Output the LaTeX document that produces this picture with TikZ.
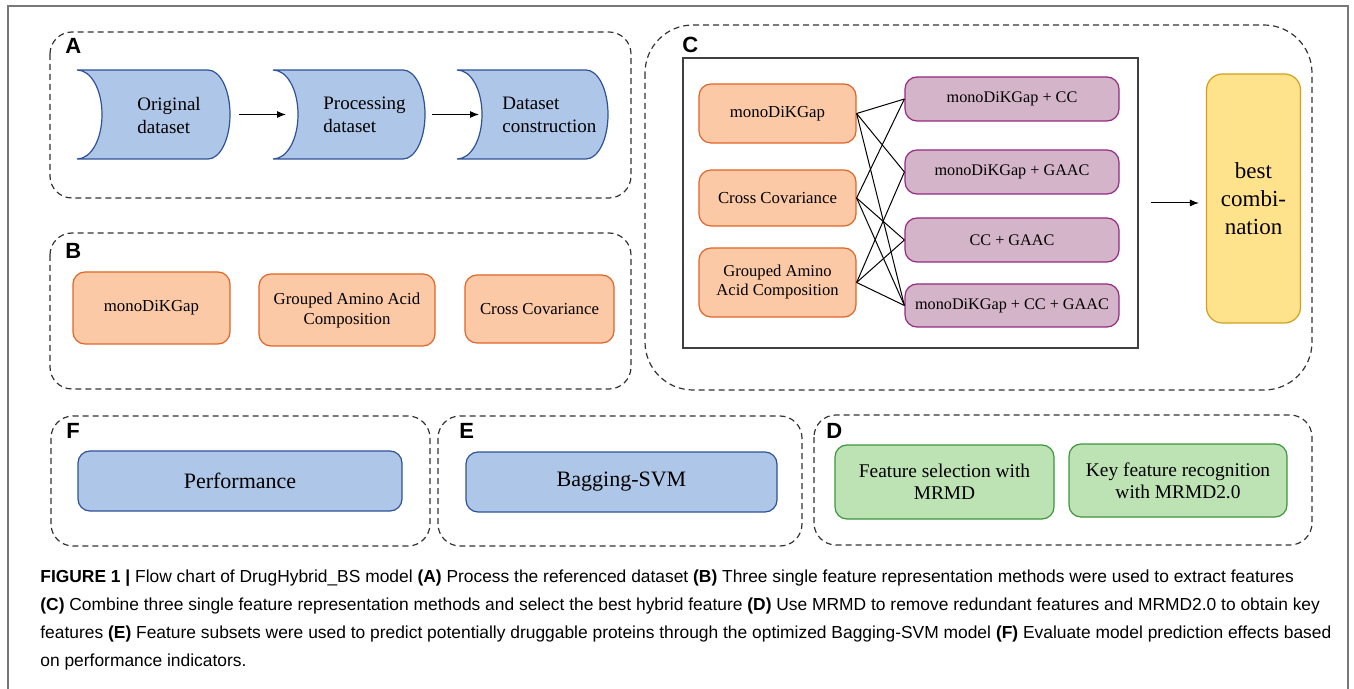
\documentclass[tikz,border=0pt]{standalone}
\usepackage{fontspec}
\setmainfont{Liberation Serif}
\newfontfamily\tagfont{Liberation Sans}
\usetikzlibrary{arrows.meta}
\definecolor{bluefill}{RGB}{174,198,232}
\definecolor{blueline}{RGB}{47,82,150}
\definecolor{orangefill}{RGB}{251,201,166}
\definecolor{orangeline}{RGB}{225,100,40}
\definecolor{purplefill}{RGB}{212,180,200}
\definecolor{purpleline}{RGB}{150,40,130}
\definecolor{yellowfill}{RGB}{255,227,140}
\definecolor{yellowline}{RGB}{210,160,30}
\definecolor{greenfill}{RGB}{189,227,180}
\definecolor{greenline}{RGB}{60,150,60}
\definecolor{framegray}{RGB}{120,120,120}
\tikzset{
	grp/.style={draw=black!80, line width=0.6pt, dash pattern=on 3pt off 2pt, rounded corners=11pt},
	tag/.style={anchor=north west, inner sep=0pt, font=\tagfont\bfseries\fontsize{11}{11}\selectfont},
	datashape/.style={draw=blueline, fill=bluefill, line width=0.6pt},
	datatext/.style={anchor=west, align=left, inner sep=0pt, font=\fontsize{9.5}{11.5}\selectfont},
	box/.style={rounded corners=6pt, line width=0.6pt, align=center, inner sep=0pt},
	orangebox/.style={box, draw=orangeline, fill=orangefill, font=\fontsize{8.4}{10}\selectfont},
	purplebox/.style={box, draw=purpleline, fill=purplefill, font=\fontsize{8.1}{9}\selectfont, minimum width=107pt, minimum height=22pt},
	bluebox/.style={box, draw=blueline, fill=bluefill, font=\fontsize{11}{13}\selectfont, minimum height=30pt},
	greenbox/.style={box, draw=greenline, fill=greenfill, font=\fontsize{9.7}{11}\selectfont},
	link/.style={line width=0.5pt},
	arrow/.style={line width=0.5pt, -{Latex[length=4.5pt,width=3.5pt]}},
	caption/.style={anchor=north west, align=left, inner sep=0pt, font=\tagfont\fontsize{8.7}{14}\selectfont}
}
% name, left, top, right, bottom
\newcommand{\datashape}[5]{
	\draw[datashape] (#2,#3) -- ({#4-22},#3) .. controls ({#4-10},#3) and (#4,{(#3+#5)/2-25}) .. (#4,{(#3+#5)/2})
		.. controls (#4,{(#3+#5)/2+25}) and ({#4-10},#5) .. ({#4-22},#5) -- (#2,#5)
		.. controls ({#2+14},#5) and ({#2+25},{(#3+#5)/2+25}) .. ({#2+25},{(#3+#5)/2})
		.. controls ({#2+25},{(#3+#5)/2-25}) and ({#2+14},#3) .. cycle;
	\coordinate (#1-l) at ({#2+25},{(#3+#5)/2});
	\coordinate (#1-r) at (#4,{(#3+#5)/2});
}

\begin{document}
\begin{tikzpicture}[x=0.5pt,y=-0.5pt]
	\useasboundingbox (0,0) rectangle (1354,689);
	%%%%% FRAME %%%%%
	\draw[framegray, line width=0.75pt] (8,689) -- (8,6) -- (1348,6) -- (1348,689);
	
	%%%%% A %%%%%
	\draw[grp] (50,32) rectangle (631,198);
	\node[tag] (ta) at (65,38) {A};
	\datashape{orig}{77}{70}{230}{159}
	\datashape{proc}{273}{70}{425}{159}
	\datashape{cons}{457}{70}{608}{159}
	\node[datatext] (torig) at (137,116) {Original\\dataset};
	\node[datatext] (tproc) at (323,115) {Processing\\dataset};
	\node[datatext] (tcons) at (502,115) {Dataset\\construction};
	\draw[arrow, shorten <=4.5pt, shorten >=6pt] (orig-r) -- (proc-l);
	\draw[arrow, shorten <=3.5pt, shorten >=1.5pt] (proc-r) -- (cons-l);
	
	%%%%% B %%%%%
	\draw[grp] (50,233) rectangle (631,389);
	\node[tag] (tb) at (65,243) {B};
	\node[orangebox, minimum width=78.5pt, minimum height=36pt] (bmono) at (151.5,308) {monoDiKGap};
	\node[orangebox, minimum width=88pt, minimum height=36pt] (bgaac) at (347,310) {Grouped Amino Acid\\Composition};
	\node[orangebox, minimum width=74.5pt, minimum height=34pt] (bcc) at (539.5,309) {Cross Covariance};
	
	%%%%% C %%%%%
	\draw[grp, rounded corners=24pt] (645,25) rectangle (1312,390);
	\node[tag] (tc) at (682,37) {C};
	\node[draw=black!75, line width=0.75pt, minimum width=227.5pt, minimum height=145pt, inner sep=0pt] (pool) at (910.5,203) {};
	\node[orangebox, minimum width=78.5pt, minimum height=29.5pt] (cmono) at (777.5,113.5) {monoDiKGap};
	\node[orangebox, minimum width=78.5pt, minimum height=28pt] (ccc) at (777.5,198) {Cross Covariance};
	\node[orangebox, minimum width=78.5pt, minimum height=34.5pt, font=\fontsize{8.3}{9.5}\selectfont] (cgaac) at (777.5,282.5) {Grouped Amino\\Acid Composition};
	\node[purplebox] (r1) at (1012,99) {monoDiKGap + CC};
	\node[purplebox] (r2) at (1012,172) {monoDiKGap + GAAC};
	\node[purplebox] (r3) at (1012,240) {CC + GAAC};
	\node[purplebox, minimum height=21.5pt] (r4) at (1012,305.5) {monoDiKGap + CC + GAAC};
	\foreach \a/\b in {cmono/r1, cmono/r2, cmono/r4, ccc/r1, ccc/r3, ccc/r4, cgaac/r2, cgaac/r3, cgaac/r4}
		\draw[link] (\a.east) -- (\b.west);
	\node[box, draw=yellowline, fill=yellowfill, minimum width=47pt, minimum height=124.5pt, rounded corners=8pt, font=\fontsize{11.5}{14}\selectfont] (best) at (1253.5,198.5) {best\\combi-\\nation};
	\draw[arrow, shorten <=6pt, shorten >=3.5pt] (pool.east) -- (pool.east -| best.west);
	
	%%%%% F E D %%%%%
	\draw[grp] (51,416) rectangle (430,546);
	\node[tag] (tf) at (66,423) {F};
	\node[bluebox, minimum width=162pt] (perf) at (240,481) {Performance};
	
	\draw[grp] (438,416) rectangle (802,546);
	\node[tag] (te) at (459,423) {E};
	\node[bluebox, minimum width=155.5pt] (bag) at (621.5,482) {Bagging-SVM};
	
	\draw[grp] (814,415) rectangle (1312,545);
	\node[tag] (td) at (826,423) {D};
	\node[greenbox, minimum width=109.5pt, minimum height=37pt] (fsel) at (944.5,482) {Feature selection with\\MRMD};
	\node[greenbox, minimum width=109pt, minimum height=36.5pt] (krec) at (1178,480.5) {Key feature recognition\\with MRMD2.0};
	
	%%%%% CAPTION %%%%%
	\node[caption] (cap) at (40,569) {\textbf{FIGURE 1 |} Flow chart of DrugHybrid\_BS model \textbf{(A)} Process the referenced dataset \textbf{(B)} Three single feature representation methods were used to extract features\\
		\textbf{(C)} Combine three single feature representation methods and select the best hybrid feature \textbf{(D)} Use MRMD to remove redundant features and MRMD2.0 to obtain key\\
		features \textbf{(E)} Feature subsets were used to predict potentially druggable proteins through the optimized Bagging-SVM model \textbf{(F)} Evaluate model prediction effects based\\
		on performance indicators.};
\end{tikzpicture}
\end{document}
